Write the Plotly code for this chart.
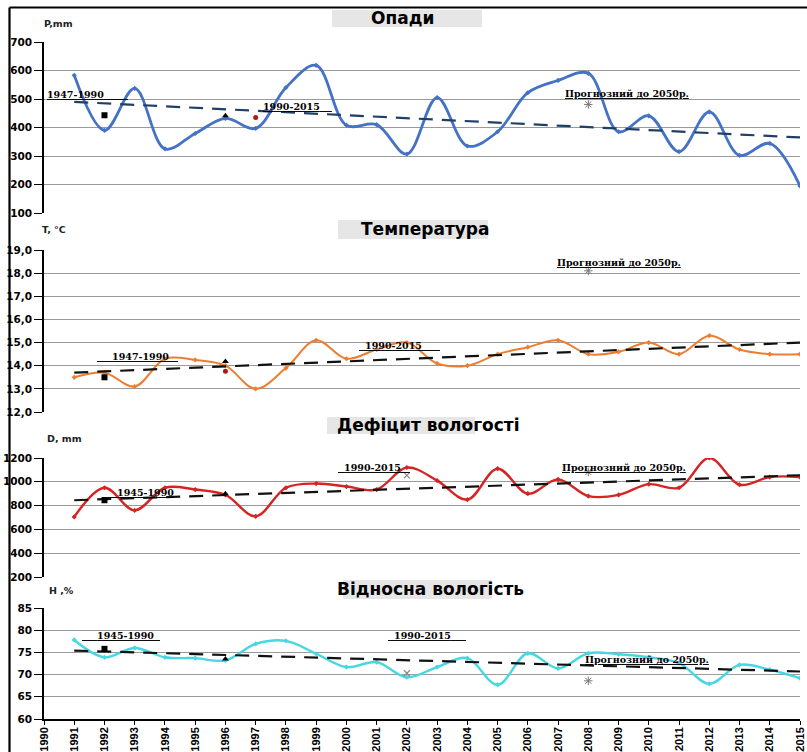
import plotly.graph_objects as go

W, H = 807, 752


def px(x):
    return x / W


def py(y):
    return 1 - y / H


# ---------------- data ----------------
years = list(range(1991, 2016))
tick_years = list(range(1990, 2016))
tick_labels = [str(y) for y in tick_years]

precip = [583, 390, 537, 325, 379, 432, 397, 540, 618, 408, 410, 307,
          505, 335, 385, 522, 565, 590, 385, 441, 315, 455, 302, 344, 195]
temp = [13.5, 13.7, 13.1, 14.3, 14.25, 14.0, 13.0, 13.9, 15.1, 14.3, 14.7, 15.0,
        14.1, 14.0, 14.5, 14.8, 15.1, 14.5, 14.6, 15.0, 14.5, 15.3, 14.7, 14.5, 14.5]
deficit = [705, 950, 760, 950, 935, 890, 710, 950, 985, 960, 935, 1120,
           1010, 850, 1110, 900, 1020, 880, 890, 980, 950, 1200, 975, 1040, 1040]
humidity = [77.8, 73.9, 76.0, 73.9, 73.7, 73.2, 76.9, 77.6, 74.7, 71.7, 72.8, 69.4,
            71.7, 73.7, 67.7, 74.8, 71.4, 74.8, 74.6, 73.9, 72.6, 67.9, 72.2, 71.1, 69.2]

trend_years = [1991, 2015]
precip_trend = [490, 365]
temp_trend = [13.7, 15.0]
deficit_trend = [845, 1055]
humidity_trend = [75.4, 70.7]

# reference-period points (black square 1992, black triangle 1996)
square_year = [1992]
triangle_year = [1996]
square_vals = [443, 13.5, 845, 75.8]
triangle_vals = [441, 14.18, 900, 73.5]
# red dot (panels 1 & 2)
red_years = [1997, 1996]
red_vals = [435, 13.76]
# forecast marks to 2050 (asterisk at 2008)
forecast_year = [2008]
forecast_vals = [481, 18.1, 1082, 68.6]
# light crosses
cross_year = [2002]
cross_vals = [None, None, 1054, 70.3]

titles = ["Опади", "Температура", "Дефіцит вологості", "Відносна вологість"]
units = ["P,mm", "T, °C", "D, mm", "H ,%"]

# ---------------- styling ----------------
series = [precip, temp, deficit, humidity]
trends = [precip_trend, temp_trend, deficit_trend, humidity_trend]
colors = ["#4472C4", "#ED7D31", "#D42424", "#45D8E2"]
widths = [2.8, 2.0, 2.4, 2.4]
trend_colors = ["#213F66", "#111111", "#111111", "#111111"]
ranges = [[100, 700], [12, 19], [200, 1200], [60, 85]]
dticks = [100, 1, 200, 5]
fmts = ["d", ".1f", "d", "d"]
domains = [[py(213), py(42)], [py(412), py(250)], [py(577), py(458)], [py(719), py(608)]]
yrefs = ["y", "y2", "y3", "y4"]

fig = go.Figure()

for i in range(4):
    yr = yrefs[i]
    fig.add_trace(go.Scatter(
        x=years, y=series[i], mode="lines+markers", yaxis=yr,
        line=dict(color=colors[i], width=widths[i], shape="spline", smoothing=1.0),
        marker=dict(color=colors[i], size=4, symbol="diamond"),
        showlegend=False))
    fig.add_trace(go.Scatter(
        x=trend_years, y=trends[i], mode="lines", yaxis=yr,
        line=dict(color=trend_colors[i], width=2.2, dash="14px,9px"),
        showlegend=False))
    fig.add_trace(go.Scatter(
        x=square_year, y=[square_vals[i]], mode="markers", yaxis=yr,
        marker=dict(color="black", size=6, symbol="square"), showlegend=False))
    fig.add_trace(go.Scatter(
        x=triangle_year, y=[triangle_vals[i]], mode="markers", yaxis=yr,
        marker=dict(color="black", size=6, symbol="triangle-up"), showlegend=False))
    fig.add_trace(go.Scatter(
        x=forecast_year, y=[forecast_vals[i]], mode="markers", yaxis=yr,
        marker=dict(color="#777777", size=7, symbol="asterisk-open",
                    line=dict(color="#777777", width=1)), showlegend=False))
    if cross_vals[i] is not None:
        fig.add_trace(go.Scatter(
            x=cross_year, y=[cross_vals[i]], mode="markers", yaxis=yr,
            marker=dict(color="#888888", size=6, symbol="x-thin-open",
                        line=dict(color="#888888", width=1.2)), showlegend=False))

for j in range(2):
    fig.add_trace(go.Scatter(
        x=[red_years[j]], y=[red_vals[j]], mode="markers", yaxis=yrefs[j],
        marker=dict(color="#B01818", size=5, symbol="circle"), showlegend=False))

# ---------------- axes ----------------
layout = dict(
    width=W, height=H,
    margin=dict(l=0, r=0, t=0, b=0),
    paper_bgcolor="white", plot_bgcolor="white",
    separators=", ",
    showlegend=False,
    xaxis=dict(
        domain=[px(44), px(800)], range=[1990, 2015], anchor="y4",
        tickmode="array", tickvals=tick_years, ticktext=tick_labels,
        tickangle=-90, ticks="outside", ticklen=4, tickcolor="black",
        ticklabelstandoff=-2, ticklabeloverflow="allow",
        showline=True, linecolor="black", linewidth=1.5, showgrid=False,
        zeroline=False, automargin=False,
        tickfont=dict(family="Liberation Sans, Arial", size=11, color="black", weight="bold"),
    ),
)
for i in range(4):
    key = "yaxis" if i == 0 else f"yaxis{i + 1}"
    layout[key] = dict(
        domain=domains[i], range=ranges[i], anchor="x",
        dtick=dticks[i], tick0=ranges[i][0], tickformat=fmts[i],
        ticks="outside", ticklen=8, tickcolor="black",
        showline=True, linecolor="black", linewidth=1.5,
        showgrid=True, gridcolor="#9a9a9a", gridwidth=1,
        zeroline=False, automargin=False,
        tickfont=dict(family="DejaVu Sans", size=10.5, color="black", weight="bold"),
    )

fig.update_layout(**layout)

# ---------------- titles, unit labels ----------------
box_x = [(332, 482), (338, 488), (327, 475), (343, 492)]
box_y = [(10, 27), (220, 239), (417, 434), (580, 599)]
title_cx = [402, 425, 428, 430]
title_cy = [18, 229, 425, 589]
unit_pos = [(42, 24), (40, 229), (45, 438), (47, 590)]

shapes = []
annotations = []
for i in range(4):
    shapes.append(dict(type="rect", xref="paper", yref="paper",
                       x0=px(box_x[i][0]), x1=px(box_x[i][1]),
                       y0=py(box_y[i][1]), y1=py(box_y[i][0]),
                       fillcolor="#E6E6E6", line=dict(width=0), layer="above"))
    annotations.append(dict(xref="paper", yref="paper", x=px(title_cx[i]), y=py(title_cy[i]),
                            text=f"<b>{titles[i]}</b>", showarrow=False,
                            xanchor="center", yanchor="middle",
                            font=dict(family="DejaVu Sans", size=17, color="black")))
    annotations.append(dict(xref="paper", yref="paper", x=px(unit_pos[i][0]), y=py(unit_pos[i][1]),
                            text=f"<b>{units[i]}</b>", showarrow=False,
                            xanchor="left", yanchor="middle",
                            font=dict(family="DejaVu Sans", size=9.5, color="#222222")))

# outer frame of the figure
shapes.append(dict(type="line", xref="paper", yref="paper", x0=px(9.5), x1=px(9.5),
                   y0=-0.02, y1=py(7.5), line=dict(color="black", width=2.2)))
shapes.append(dict(type="line", xref="paper", yref="paper", x0=px(9.5), x1=1.02,
                   y0=py(7.5), y1=py(7.5), line=dict(color="black", width=2.0)))

NB = "\u00a0"


def period_label(text, lead, trail):
    return "<u>" + NB * lead + "<b>" + text + "</b>" + NB * trail + "</u>"


# period labels: (panel, text, x-year, value, lead, trail)
period_labels = [
    (0, "1947-1990", 1990.03, 515, 0, 8),
    (0, "1990-2015", 1997.18, 475, 0, 4),
    (0, "Прогнозний до 2050р.", 2007.16, 521, 0, 0),
    (1, "1947-1990", 1991.68, 14.38, 5, 3),
    (1, "1990-2015", 2000.34, 14.89, 2, 6),
    (1, "Прогнозний до 2050р.", 2006.9, 18.48, 0, 0),
    (2, "1945-1990", 1991.84, 906, 5, 0),
    (2, "1990-2015", 1999.65, 1124, 2, 3),
    (2, "Прогнозний до 2050р.", 2007.06, 1124, 0, 0),
    (3, "1945-1990", 1991.19, 78.9, 5, 2),
    (3, "1990-2015", 2001.3, 78.7, 2, 5),
    (3, "Прогнозний до 2050р.", 2007.82, 73.5, 0, 0),
]
for (p, t, xv, yv, lead, trail) in period_labels:
    annotations.append(dict(xref="x", yref=yrefs[p], x=xv, y=yv,
                            text=period_label(t, lead, trail), showarrow=False,
                            xanchor="left", yanchor="middle",
                            font=dict(family="DejaVu Serif", size=9.5, color="black")))

fig.update_layout(shapes=shapes, annotations=annotations)

fig.write_html(
    "out.html",
    config={"displayModeBar": False},
    post_script="document.body.style.margin='0px';document.body.style.overflow='hidden';",
)
